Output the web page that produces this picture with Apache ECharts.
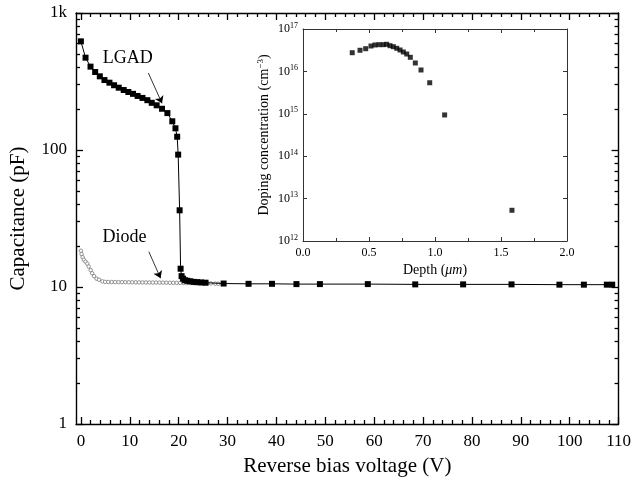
<!DOCTYPE html>
<html><head><meta charset="utf-8">
<script src="https://cdn.jsdelivr.net/npm/echarts@6/dist/echarts.min.js"></script>
<style>html,body{margin:0;padding:0;background:#fff}#c{width:634px;height:482px}</style>
</head><body><div id="c"></div>
<script>
// ---- data ----
const lgadV = [0, 0.95, 1.97, 2.92, 3.87, 4.82, 5.84, 6.79, 7.74, 8.76, 9.71, 10.66, 11.6, 12.6, 13.6, 14.5, 15.5, 16.6, 17.7, 18.7, 19.35, 19.7, 19.9, 20.2, 20.4, 20.6, 20.9, 21.3, 21.8, 22.4, 23.1, 23.8, 24.6, 25.5, 29.2, 34.3, 39.1, 44.1, 48.9, 58.7, 68.4, 78.2, 88.1, 97.9, 102.9, 107.6, 108.7];
const lgadC = [621, 472, 406, 371, 345, 324, 310, 297, 285, 274, 265, 257, 248, 240, 231, 221, 212, 200, 186, 162, 144, 125, 92.5, 36.3, 13.6, 12.0, 11.5, 11.2, 11.1, 11.0, 10.9, 10.85, 10.8, 10.75, 10.6, 10.55, 10.55, 10.5, 10.5, 10.5, 10.45, 10.45, 10.45, 10.4, 10.4, 10.4, 10.4];
const diodeV = [0, 0.14, 0.35, 0.6, 0.95, 1.3, 1.6, 2.0, 2.3, 2.7, 3.2, 3.7, 4.4, 4.95, 5.6, 6.3, 7.0, 7.7, 8.4, 9.1, 9.8, 10.5, 11.2, 11.9, 12.6, 13.3, 14.0, 14.7, 15.4, 16.1, 16.8, 17.5, 18.2, 18.9, 19.6, 20.3, 21.0, 21.7, 22.4, 23.1, 23.8, 24.5, 25.2, 25.9, 26.6, 27.5, 28.1];
const diodeC = [18.4, 17.4, 16.5, 15.8, 15.3, 14.8, 14.1, 13.3, 12.6, 12.0, 11.5, 11.3, 11.0, 10.9, 10.88, 10.87, 10.86, 10.85, 10.85, 10.84, 10.83, 10.82, 10.82, 10.81, 10.8, 10.8, 10.79, 10.78, 10.78, 10.77, 10.76, 10.75, 10.74, 10.73, 10.72, 10.71, 10.7, 10.69, 10.68, 10.67, 10.66, 10.65, 10.64, 10.63, 10.62, 10.58, 10.55];
const depth = [0.373, 0.432, 0.475, 0.515, 0.545, 0.576, 0.608, 0.634, 0.659, 0.684, 0.710, 0.735, 0.760, 0.786, 0.813, 0.851, 0.894, 0.960, 1.073, 1.583];
const doping = [2.76e16, 3.15e16, 3.43e16, 3.97e16, 4.2e16, 4.27e16, 4.27e16, 4.36e16, 4.04e16, 3.83e16, 3.51e16, 3.2e16, 2.87e16, 2.57e16, 2.15e16, 1.58e16, 1.08e16, 5.4e15, 9.4e14, 5.3e12];
const xMajorTicks = [0, 10, 20, 30, 40, 50, 60, 70, 80, 90, 100, 110];
const xMinorTicks = [2, 4, 6, 8, 12, 14, 16, 18, 22, 24, 26, 28, 32, 34, 36, 38, 42, 44, 46, 48, 52, 54, 56, 58, 62, 64, 66, 68, 72, 74, 76, 78, 82, 84, 86, 88, 92, 94, 96, 98, 102, 104, 106, 108];
const yMinorTicks = [2, 3, 4, 5, 6, 7, 8, 9, 20, 30, 40, 50, 60, 70, 80, 90, 200, 300, 400, 500, 600, 700, 800, 900];
const insetXTicks = ['0.0', '0.5', '1.0', '1.5', '2.0'];

const SERIF = '"Liberation Serif", "DejaVu Serif", serif';
const chart = echarts.init(document.getElementById('c'), null, {renderer: 'canvas'});

const lineBlack = {show: true, onZero: false, lineStyle: {color: '#000', width: 1.4}};
const noLine = {show: false, onZero: false};
function xAx(pos, ticks, len, labels, line, extra) {
  return Object.assign({
    type: 'value', gridIndex: 0, position: pos, min: -1, max: 110,
    axisLine: line ? lineBlack : noLine,
    axisTick: {show: true, inside: true, length: len, customValues: ticks, lineStyle: {color: '#000', width: 1.3}},
    axisLabel: labels ? {show: true, customValues: ticks, color: '#000', fontSize: 17, fontFamily: SERIF, margin: 9} : {show: false},
    splitLine: {show: false}
  }, extra || {});
}
const logMinor = yMinorTicks.map(v => Math.log10(v));
function yMinor(pos) {
  return {
    type: 'value', gridIndex: 0, position: pos, min: 0, max: 3,
    axisLine: noLine,
    axisTick: {show: true, inside: true, length: 4, customValues: logMinor, lineStyle: {color: '#000', width: 1.3}},
    axisLabel: {show: false}, splitLine: {show: false}
  };
}

const option = {
  animation: false,
  backgroundColor: '#fff',
  grid: [
    {left: 75, top: 13, width: 545, height: 411},
    {left: 303, top: 29, width: 264, height: 212}
  ],
  xAxis: [
    xAx('bottom', xMajorTicks, 7, true, true, {
      name: 'Reverse bias voltage (V)', nameLocation: 'middle', nameGap: 32,
      nameTextStyle: {color: '#000', fontSize: 21, fontFamily: SERIF}
    }),
    xAx('bottom', xMinorTicks, 4, false, false),
    xAx('top', xMajorTicks, 7, false, true),
    xAx('top', xMinorTicks, 4, false, false),
    {
      type: 'value', gridIndex: 1, position: 'bottom', min: 0, max: 2, interval: 0.5,
      axisLine: {show: true, onZero: false, lineStyle: {color: '#333', width: 1}},
      axisTick: {show: true, inside: true, length: 4, lineStyle: {color: '#333'}},
      minorTick: {show: true, splitNumber: 2, length: 3, lineStyle: {color: '#333'}},
      axisLabel: {color: '#000', fontSize: 12, fontFamily: SERIF, margin: 6,
        formatter: (v) => insetXTicks[Math.round(v / 0.5)]},
      splitLine: {show: false},
      name: 'Depth ({i|μm})', nameLocation: 'middle', nameGap: 22,
      nameTextStyle: {color: '#000', fontSize: 14, fontFamily: SERIF,
        rich: {i: {fontStyle: 'italic', fontSize: 14, fontFamily: SERIF, color: '#000'}}}
    },
    {
      type: 'value', gridIndex: 1, position: 'top', min: 0, max: 2, interval: 0.5,
      axisLine: {show: true, onZero: false, lineStyle: {color: '#333', width: 1}},
      axisTick: {show: true, inside: true, length: 4, lineStyle: {color: '#333'}},
      minorTick: {show: true, splitNumber: 2, length: 3, lineStyle: {color: '#333'}},
      axisLabel: {show: false}, splitLine: {show: false}
    }
  ],
  yAxis: [
    {
      type: 'log', logBase: 10, gridIndex: 0, position: 'left', min: 1, max: 1000,
      axisLine: lineBlack,
      axisTick: {show: true, inside: true, length: 7, lineStyle: {color: '#000', width: 1.3}},
      axisLabel: {color: '#000', fontSize: 17, fontFamily: SERIF, margin: 9,
        formatter: (v) => v >= 1000 ? '1k' : String(Math.round(v))},
      splitLine: {show: false}, minorTick: {show: false},
      name: 'Capacitance (pF)', nameLocation: 'middle', nameGap: 47, nameRotate: 90,
      nameTextStyle: {color: '#000', fontSize: 21, fontFamily: SERIF}
    },
    yMinor('left'),
    {
      type: 'log', logBase: 10, gridIndex: 0, position: 'right', min: 1, max: 1000,
      axisLine: lineBlack,
      axisTick: {show: true, inside: true, length: 7, lineStyle: {color: '#000', width: 1.3}},
      axisLabel: {show: false}, splitLine: {show: false}
    },
    yMinor('right'),
    {
      type: 'log', logBase: 10, gridIndex: 1, position: 'left', min: 1e12, max: 1e17,
      axisLine: {show: true, onZero: false, lineStyle: {color: '#333', width: 1}},
      axisTick: {show: true, inside: true, length: 4, lineStyle: {color: '#333'}},
      axisLabel: {color: '#000', fontSize: 12, fontFamily: SERIF, margin: 5,
        formatter: (v) => '{b|10}{s|' + Math.round(Math.log10(v)) + '}',
        rich: {b: {fontSize: 12, fontFamily: SERIF, color: '#000'},
               s: {fontSize: 8, fontFamily: SERIF, color: '#000', verticalAlign: 'top', padding: [0, 0, 7, 0]}}},
      splitLine: {show: false},
      name: 'Doping concentration (cm{s|−3})', nameLocation: 'middle', nameGap: 30, nameRotate: 90,
      nameTextStyle: {color: '#000', fontSize: 14, fontFamily: SERIF,
        rich: {s: {fontSize: 9, fontFamily: SERIF, color: '#000', verticalAlign: 'top', padding: [0, 0, 8, 0]}}}
    },
    {
      type: 'log', logBase: 10, gridIndex: 1, position: 'right', min: 1e12, max: 1e17,
      axisLine: {show: true, onZero: false, lineStyle: {color: '#333', width: 1}},
      axisTick: {show: true, inside: true, length: 4, lineStyle: {color: '#333'}},
      axisLabel: {show: false}, splitLine: {show: false}
    }
  ],
  series: [
    {
      name: 'Diode', type: 'line', xAxisIndex: 0, yAxisIndex: 0, z: 2,
      data: diodeV.map((v, i) => [v, diodeC[i]]),
      symbol: 'circle', symbolSize: 3.5, showAllSymbol: true,
      lineStyle: {color: '#8a8a8a', width: 1.2},
      itemStyle: {color: '#fff', borderColor: '#7a7a7a', borderWidth: 0.8},
      markPoint: {
        symbol: 'circle', symbolSize: 1, itemStyle: {color: 'rgba(0,0,0,0)'},
        label: {show: true, position: 'inside', formatter: 'Diode', color: '#000', fontSize: 18, fontFamily: SERIF},
        data: [{coord: [8.9, 23.0]}]
      },
      markLine: {
        silent: true, symbol: ['none', 'arrow'], symbolSize: 7,
        lineStyle: {color: '#000', width: 0.8, type: 'solid'}, label: {show: false},
        data: [[{coord: [13.9, 18.1]}, {coord: [16.3, 11.6]}]]
      }
    },
    {
      name: 'LGAD', type: 'line', xAxisIndex: 0, yAxisIndex: 0, z: 3,
      data: lgadV.map((v, i) => [v, lgadC[i]]),
      symbol: 'rect', symbolSize: 6, showAllSymbol: true,
      lineStyle: {color: '#000', width: 1},
      itemStyle: {color: '#000'},
      markPoint: {
        symbol: 'circle', symbolSize: 1, itemStyle: {color: 'rgba(0,0,0,0)'},
        label: {show: true, position: 'inside', formatter: 'LGAD', color: '#000', fontSize: 18, fontFamily: SERIF},
        data: [{coord: [9.6, 470]}]
      },
      markLine: {
        silent: true, symbol: ['none', 'arrow'], symbolSize: 7,
        lineStyle: {color: '#000', width: 0.8, type: 'solid'}, label: {show: false},
        data: [[{coord: [13.8, 365]}, {coord: [16.6, 219]}]]
      }
    },
    {
      name: 'Doping', type: 'scatter', xAxisIndex: 4, yAxisIndex: 4, z: 3,
      data: depth.map((d, i) => [d, doping[i]]),
      symbol: 'rect', symbolSize: 5, itemStyle: {color: '#000'}
    }
  ]
};
chart.setOption(option);
</script></body></html>
